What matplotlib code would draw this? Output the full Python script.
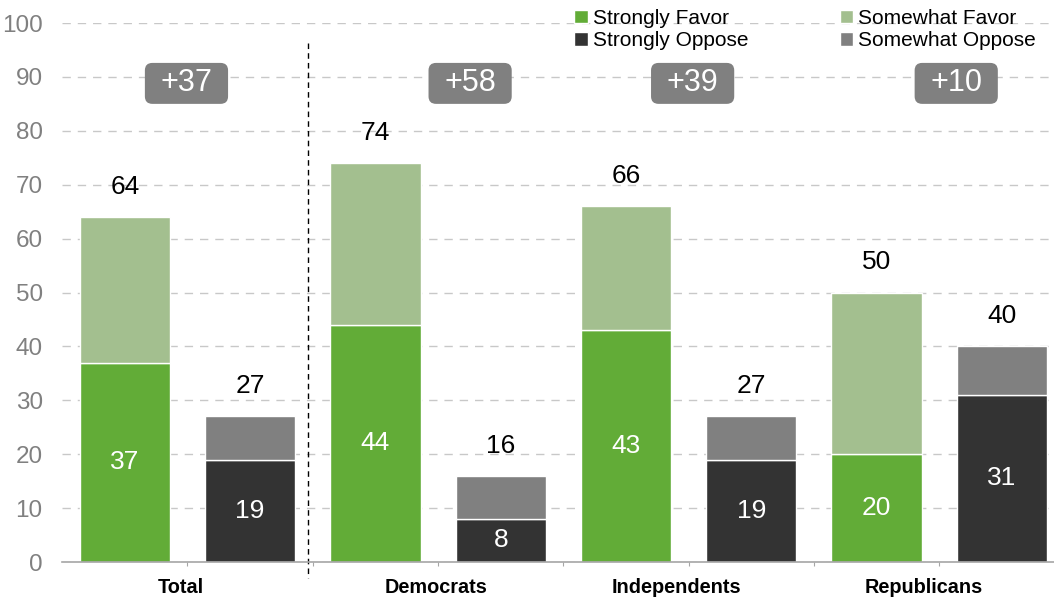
import numpy as np
import matplotlib.pyplot as plt
from matplotlib.patches import FancyBboxPatch

groups = ['Total', 'Democrats', 'Independents', 'Republicans']
strongly_favor = [37, 44, 43, 20]
somewhat_favor = [27, 30, 23, 30]
strongly_oppose = [19, 8, 19, 31]
somewhat_oppose = [8, 8, 8, 9]
net = ['+37', '+58', '+39', '+10']

c_sf = '#62AC37'
c_swf = '#A3BF8F'
c_so = '#333333'
c_swo = '#808080'

plt.rcParams['font.family'] = ['Liberation Sans', 'DejaVu Sans']

fig = plt.figure(figsize=(10.54, 5.98), dpi=100)
ax = fig.add_axes([0.059, 0.0602, 0.945, 0.9013])

fav_x = np.arange(len(groups)) * 2
opp_x = fav_x + 1
w = 0.72

sf = np.array(strongly_favor)
swf = np.array(somewhat_favor)
so = np.array(strongly_oppose)
swo = np.array(somewhat_oppose)

ax.bar(fav_x, sf, w, color=c_sf, edgecolor='white', linewidth=1, label='Strongly Favor', zorder=3)
ax.bar(fav_x, swf, w, bottom=sf, color=c_swf, edgecolor='white', linewidth=1, label='Somewhat Favor', zorder=3)
ax.bar(opp_x, so, w, color=c_so, edgecolor='white', linewidth=1, label='Strongly Oppose', zorder=3)
ax.bar(opp_x, swo, w, bottom=so, color=c_swo, edgecolor='white', linewidth=1, label='Somewhat Oppose', zorder=3)

for i in range(len(groups)):
    ax.text(fav_x[i], sf[i] / 2, str(sf[i]), ha='center', va='center', color='white', fontsize=19, zorder=4)
    ax.text(opp_x[i], so[i] / 2, str(so[i]), ha='center', va='center', color='white', fontsize=19, zorder=4)
    ax.text(fav_x[i], sf[i] + swf[i] + 5.6, str(sf[i] + swf[i]), ha='center', va='center', color='black', fontsize=19)
    ax.text(opp_x[i], so[i] + swo[i] + 5.6, str(so[i] + swo[i]), ha='center', va='center', color='black', fontsize=19)

# net boxes (left edge in data units)
box_left = [0.16, 2.424, 4.2, 6.304]
bw, bh, by = 0.664, 7.6, 88.8
for bl, t in zip(box_left, net):
    ax.add_patch(FancyBboxPatch((bl, by - bh / 2), bw, bh,
                                boxstyle='round,pad=0,rounding_size=0.06', mutation_aspect=23,
                                fc='#808080', ec='none', zorder=5))
    ax.text(bl + bw / 2, by, t, ha='center', va='center', color='white', fontsize=22, zorder=6)

ax.set_xlim(-0.5, 7.45)
ax.set_ylim(0, 100)
ax.set_yticks(np.arange(0, 101, 10))
ax.tick_params(axis='y', length=0, pad=14, labelsize=17.5, labelcolor='#808080')
ax.set_xticks(np.arange(0.5, 7, 1))
ax.set_xticklabels([])
ax.tick_params(axis='x', length=3, color='#A6A6A6', direction='out')
ax.yaxis.grid(True, linestyle=(0, (6, 5)), color='#C8C8C8', linewidth=1, zorder=0)
for s in ['top', 'right', 'left']:
    ax.spines[s].set_visible(False)
ax.spines['bottom'].set_color('#A6A6A6')
ax.spines['bottom'].set_linewidth(1.2)
ax.spines['bottom'].set_zorder(4)

label_x = [0.447, 2.486, 4.40, 6.38]
for lx, g in zip(label_x, groups):
    ax.text(lx, -4.7, g, ha='center', va='center', fontsize=14.3, fontweight='bold', color='black')

ax.plot([1.46, 1.46], [96.3, -3], linestyle=(0, (4, 3)), color='black', linewidth=1, clip_on=False, zorder=2)

handles, labels = ax.get_legend_handles_labels()
order = [0, 2, 1, 3]
fig.legend([handles[k] for k in order], [labels[k] for k in order], ncol=2, loc='upper left',
           bbox_to_anchor=(0.541, 0.992), frameon=False, fontsize=15, handlelength=0.63, handleheight=0.63,
           handletextpad=0.24, columnspacing=4.4, labelspacing=0.17, borderpad=0.2, borderaxespad=0)

fig.savefig('out.png', dpi=100)
